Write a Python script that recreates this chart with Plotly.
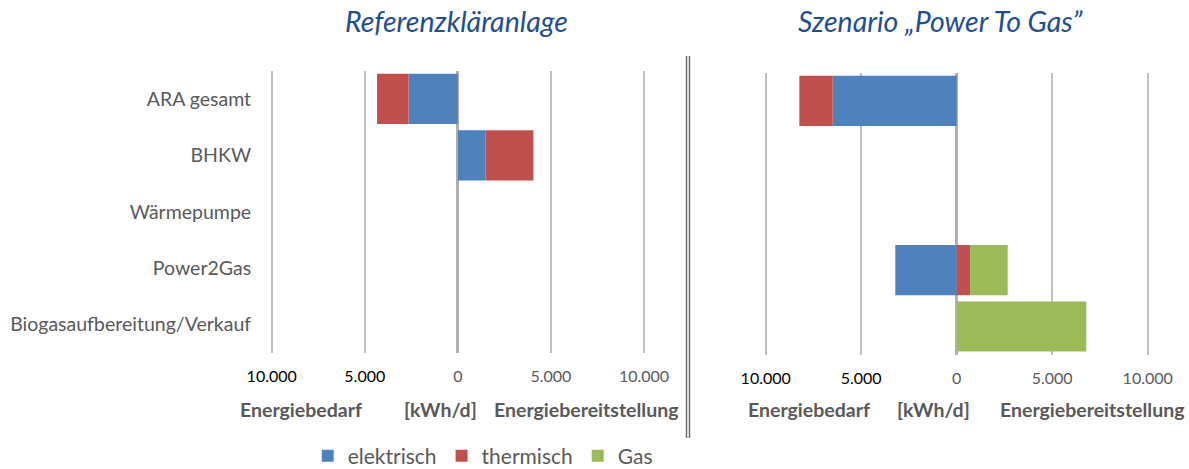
import plotly.graph_objects as go

# Categories (top to bottom)
categories = ["ARA gesamt", "BHKW", "Wärmepumpe", "Power2Gas", "Biogasaufbereitung/Verkauf"]

# Referenzkläranlage [kWh/d]  (negative = Energiebedarf, positive = Energiebereitstellung)
ref_elektrisch = [-2650, 1480, 0, 0, 0]
ref_thermisch = [-1690, 2580, 0, 0, 0]
ref_gas = [0, 0, 0, 0, 0]

# Szenario "Power To Gas" [kWh/d]
p2g_elektrisch = [-6490, 0, 0, -3215, 0]
p2g_thermisch = [-1750, 0, 0, 700, 0]
p2g_gas = [0, 0, 0, 1970, 6785]

tick_vals = [-10000, -5000, 0, 5000, 10000]
tick_text = ["10.000", "5.000", "0", "5.000", "10.000"]

series_names = ["elektrisch", "thermisch", "Gas"]
colors = ["#4F81BD", "#C0504D", "#9BBB59"]

FONT = "Lato, 'Open Sans', sans-serif"
GRAY = "#595959"
TITLE_BLUE = "#1F4E8C"

fig = go.Figure()

ref_series = [ref_elektrisch, ref_thermisch, ref_gas]
p2g_series = [p2g_elektrisch, p2g_thermisch, p2g_gas]

for name, col, vals in zip(series_names, colors, ref_series):
    fig.add_trace(go.Bar(
        y=categories, x=vals, orientation="h", name=name,
        marker=dict(color=col, line=dict(width=0)),
        xaxis="x", yaxis="y", legendgroup=name, showlegend=True,
    ))
for name, col, vals in zip(series_names, colors, p2g_series):
    fig.add_trace(go.Bar(
        y=categories, x=vals, orientation="h", name=name,
        marker=dict(color=col, line=dict(width=0)),
        xaxis="x2", yaxis="y2", legendgroup=name, showlegend=False,
    ))

# Negative side labels black, positive side labels gray
styled_ticks = [
    f'<span style="color:{"#000000" if v < 0 else GRAY}">{t}</span>'
    for v, t in zip(tick_vals, tick_text)
]

W, H = 1189, 469
pad = 10300

def xaxis_cfg(left_px, right_px):
    # domain chosen so that +/-10000 lands on the given pixel columns
    per_unit = (right_px - left_px) / 20000.0
    center = (left_px + right_px) / 2.0
    d0 = (center - pad * per_unit) / W
    d1 = (center + pad * per_unit) / W
    return dict(
        domain=[d0, d1], range=[-pad, pad], automargin=False,
        tickvals=tick_vals, ticktext=styled_ticks,
        showgrid=True, gridcolor="#BFBFBF", gridwidth=2,
        zeroline=True, zerolinecolor="#B0B0B0", zerolinewidth=3,
        showline=False, ticks="", ticklabelstandoff=12,
        tickfont=dict(family=FONT, size=16, color=GRAY),
        fixedrange=True,
    )

fig.update_layout(
    width=W, height=H,
    margin=dict(l=0, r=0, t=0, b=0, autoexpand=False),
    paper_bgcolor="white", plot_bgcolor="white",
    barmode="relative", bargap=0.11,
    font=dict(family=FONT, color=GRAY),
    xaxis=dict(xaxis_cfg(271.7, 644.0), anchor="y"),
    xaxis2=dict(xaxis_cfg(765.7, 1147.7), anchor="y2"),
    yaxis=dict(
        domain=[1 - 352.7 / H, 1 - 70.7 / H], anchor="x", automargin=False,
        autorange="reversed", showgrid=False, zeroline=False,
        ticks="", ticklabelstandoff=14,
        tickfont=dict(family=FONT, size=19.5, color=GRAY),
    ),
    yaxis2=dict(
        domain=[1 - 354.7 / H, 1 - 72.7 / H], anchor="x2", automargin=False,
        autorange="reversed", showgrid=False, zeroline=False,
        showticklabels=False, ticks="",
    ),
    legend=dict(
        orientation="h", x=0.406, y=1 - 456 / H,
        xanchor="center", yanchor="middle",
        font=dict(family=FONT, size=21, color=GRAY),
        itemwidth=30, tracegroupgap=0,
    ),
    showlegend=True,
)

# Panel titles
titles = [("Referenzkläranlage", 456), ("Szenario „Power To Gas”", 940)]
for text, xc in titles:
    fig.add_annotation(
        x=xc / W, y=1 - 21 / H, xref="paper", yref="paper",
        text=f"<i>{text}</i>", showarrow=False,
        font=dict(family=FONT, size=28.5, color=TITLE_BLUE),
        xanchor="center", yanchor="middle",
    )

# Axis captions under each panel
captions = [
    ("Energiebedarf", 300.5), ("[kWh/d]", 440.5), ("Energiebereitstellung", 585.5),
    ("Energiebedarf", 809), ("[kWh/d]", 933.5), ("Energiebereitstellung", 1091.5),
]
for text, xc in captions:
    fig.add_annotation(
        x=xc / W, y=1 - 409 / H, xref="paper", yref="paper",
        text=f"<b>{text}</b>", showarrow=False,
        font=dict(family=FONT, size=19.5, color=GRAY),
        xanchor="center", yanchor="middle",
    )

# Double separator line between the two panels
for xp in (686.5, 689.5):
    fig.add_shape(
        type="line", xref="paper", yref="paper",
        x0=xp / W, x1=xp / W, y0=1 - 438 / H, y1=1 - 56 / H,
        line=dict(color="#6E6E6E", width=1.5),
    )

fig.write_html("out.html")
